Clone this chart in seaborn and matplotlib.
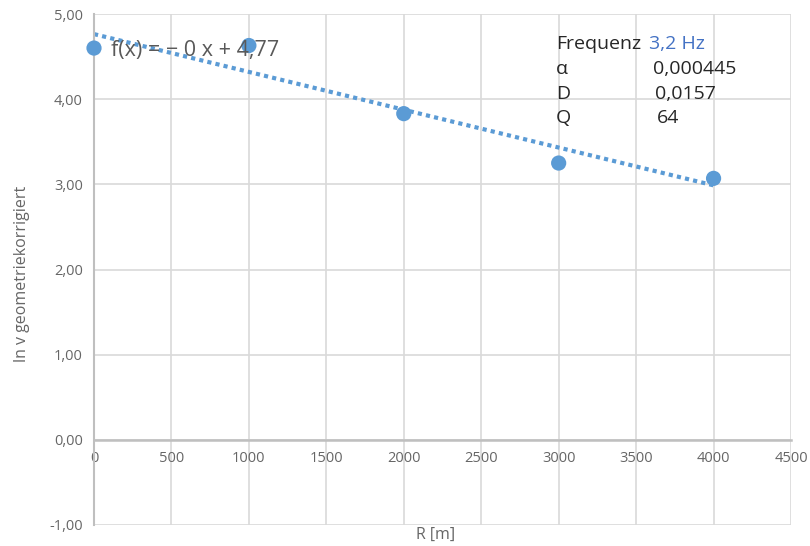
import numpy as np
import pandas as pd
import matplotlib
matplotlib.use("Agg")
import matplotlib.pyplot as plt
import seaborn as sns

# data
r_m = [0, 1000, 2000, 3000, 4000]
ln_v = [4.60, 4.63, 3.83, 3.25, 3.07]
x_ticks = [0, 500, 1000, 1500, 2000, 2500, 3000, 3500, 4000, 4500]
y_ticks = [-1, 0, 1, 2, 3, 4, 5]
info_labels = ["α", "D", "Q"]
info_values = ["0,000445", "0,0157", "64"]

sns.set_theme(style="white")
plt.rcParams['font.family'] = ['Open Sans', 'DejaVu Sans']

df = pd.DataFrame({"R": r_m, "lnv": ln_v})

fig = plt.figure(figsize=(8.1, 5.46), dpi=100)
ax = fig.add_axes([94/810, 21/546, (791-94)/810, (525-14)/546])

blue = "#5b9bd5"
sns.regplot(data=df, x="R", y="lnv", ax=ax, scatter=False, ci=None, truncate=True,
            line_kws=dict(color=blue, lw=3, ls=(0, (1, 1)), dash_capstyle="butt"))
sns.scatterplot(data=df, x="R", y="lnv", ax=ax, color=blue, s=120, edgecolor="none", zorder=5, clip_on=False)

ax.set_xlim(0, 4500)
ax.set_ylim(-1, 5)
ax.set_xticks(x_ticks)
ax.set_yticks(y_ticks)
ax.set_xticklabels([str(v) for v in x_ticks])
ax.set_yticklabels([f"{v:.2f}".replace(".", ",") for v in y_ticks])
ax.grid(True, color="#d9d9d9", lw=1.2)
ax.set_axisbelow(True)
for s in ["top", "right"]:
    ax.spines[s].set_visible(False)
ax.spines["left"].set_color("#bfbfbf")
ax.spines["left"].set_linewidth(1.5)
ax.spines["bottom"].set_position(("data", 0))
ax.spines["bottom"].set_color("#bfbfbf")
ax.spines["bottom"].set_linewidth(1.8)
ax.tick_params(axis="both", length=0, colors="#666666", labelsize=10.5)
ax.tick_params(axis="x", pad=8)
ax.tick_params(axis="y", pad=8)
ax.set_xlabel("")
ax.set_ylabel("")

fig.text(436/810, 1 - 535/546, "R [m]", ha="center", va="center", fontsize=11.5, color="#666666")
fig.text(22/810, 1 - 274/546, "ln v geometriekorrigiert", ha="center", va="center",
         rotation=90, fontsize=11.5, color="#666666")

ax.text(112, 4.57, "f(x) = − 0 x + 4,77", transform=ax.transData, fontsize=15.5,
        color="#595959", va="center", ha="left", zorder=6)

fig.text(556/810, 1 - 44/546, "Frequenz", ha="left", va="center", fontsize=14, color="#262626")
fig.text(649/810, 1 - 44/546, "3,2 Hz", ha="left", va="center", fontsize=14, color="#4472c4")
ys = [69, 94, 118]
xs = [653, 655, 657]
for lab, val, yy, xx in zip(info_labels, info_values, ys, xs):
    fig.text(556/810, 1 - yy/546, lab, ha="left", va="center", fontsize=14, color="#262626")
    fig.text(xx/810, 1 - yy/546, val, ha="left", va="center", fontsize=14, color="#262626")

fig.savefig("out.png", dpi=100)
